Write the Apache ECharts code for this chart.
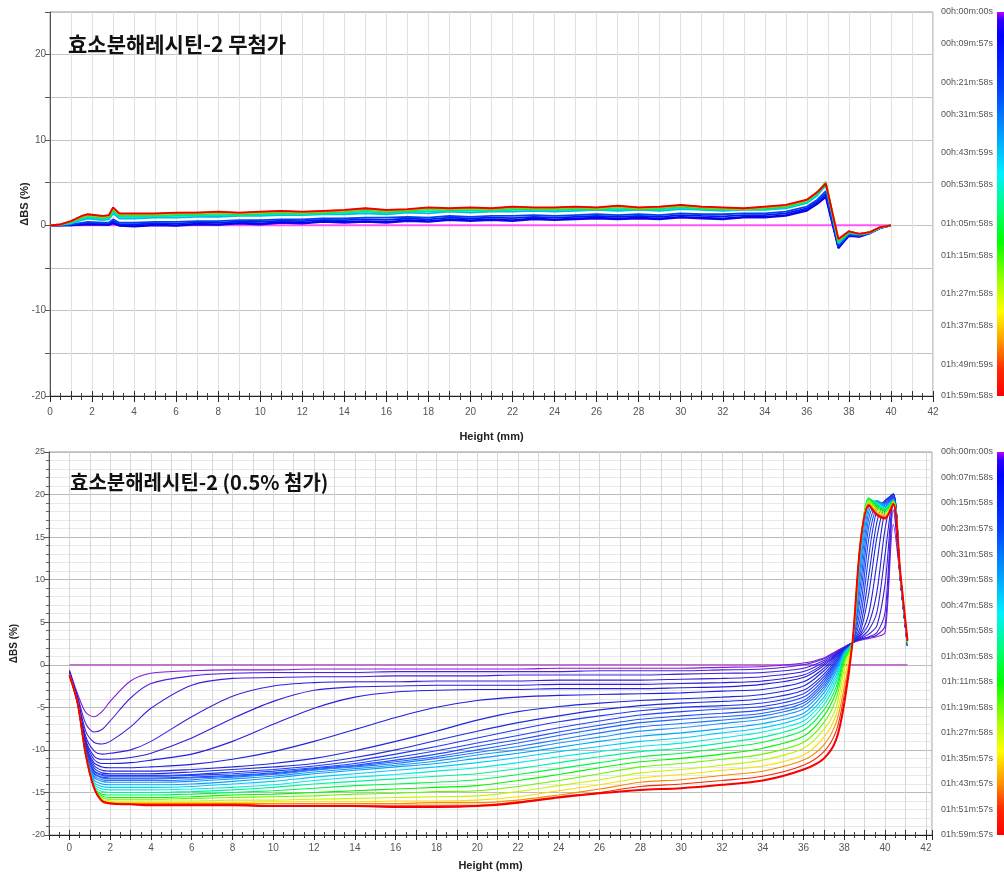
<!DOCTYPE html>
<html><head><meta charset="utf-8">
<script src="https://cdn.jsdelivr.net/npm/echarts@6/dist/echarts.min.js"></script>
<style>html,body{margin:0;padding:0;background:#fff}#c{width:1004px;height:874px}</style>
</head><body><div id="c"></div>
<script>
// ---------- TOP PANEL DATA (효소분해레시틴-2 무첨가) ----------
const topTitle = '효소분해레시틴-2 무첨가';
const topHeights = [0,0.5,1,1.5,1.8,2.5,2.8,3,3.3,4,5,6,7,8,9,10,11,12,13,14,15,16,17,18,19,20,21,22,23,24,25,26,27,28,29,30,31,32,33,34,35,36,36.5,36.9,37.5,38,38.5,39,39.5,40];
const topTimesMin = [3,8,15,25,45,55,65,85,105,120];
const topValues = [
 [0,0,0,0.05,0.1,0.05,0.05,0.2,-0.05,-0.15,0.0,-0.05,0.1,0.05,0.2,0.1,0.3,0.2,0.4,0.3,0.4,0.3,0.5,0.4,0.6,0.5,0.6,0.5,0.7,0.6,0.7,0.8,0.7,0.8,0.7,0.9,0.8,0.7,0.9,0.9,1.1,1.7,2.5,3.3,-2.7,-1.25,-1.35,-0.95,-0.3,0],
 [0,0,0,0.1,0.2,0.1,0.1,0.3,0.0,-0.1,0.1,0.0,0.2,0.1,0.3,0.2,0.4,0.3,0.5,0.4,0.5,0.4,0.6,0.5,0.7,0.6,0.7,0.6,0.8,0.7,0.8,0.9,0.8,0.9,0.8,1.0,0.9,0.8,1.0,1.0,1.2,1.8,2.6,3.4,-2.6,-1.2,-1.3,-0.9,-0.3,0],
 [0,0,0.05,0.2,0.3,0.2,0.2,0.5,0.15,0.1,0.25,0.2,0.35,0.3,0.45,0.4,0.55,0.5,0.65,0.6,0.7,0.65,0.8,0.7,0.9,0.8,0.9,0.85,1.0,0.9,1.0,1.1,1.0,1.1,1.0,1.2,1.1,1.05,1.2,1.2,1.4,2.0,2.8,3.7,-2.5,-1.15,-1.25,-0.9,-0.3,0],
 [0,0,0.1,0.3,0.4,0.3,0.3,0.7,0.3,0.3,0.4,0.4,0.5,0.5,0.6,0.6,0.7,0.7,0.8,0.8,0.9,0.9,1.0,0.9,1.1,1.0,1.1,1.1,1.2,1.1,1.2,1.3,1.2,1.3,1.2,1.4,1.3,1.3,1.4,1.4,1.6,2.2,3.0,4.0,-2.4,-1.1,-1.2,-0.9,-0.3,0],
 [0,0.05,0.2,0.6,0.8,0.6,0.7,1.4,0.8,0.8,0.9,0.9,1.0,1.0,1.1,1.1,1.2,1.2,1.3,1.3,1.4,1.3,1.5,1.4,1.6,1.5,1.6,1.6,1.7,1.6,1.7,1.8,1.7,1.8,1.7,1.9,1.8,1.7,1.8,1.8,2.0,2.6,3.5,4.7,-2.1,-0.9,-1.1,-0.9,-0.3,0],
 [0,0.08,0.3,0.75,0.95,0.75,0.85,1.6,1.0,1.0,1.05,1.1,1.15,1.2,1.2,1.25,1.35,1.3,1.4,1.45,1.6,1.45,1.6,1.65,1.7,1.7,1.7,1.8,1.8,1.75,1.85,1.85,1.9,1.85,1.85,2.05,1.9,1.8,1.85,1.9,2.1,2.7,3.65,4.9,-2.0,-0.85,-1.05,-0.85,-0.25,0],
 [0,0.1,0.4,0.9,1.1,0.9,1.0,1.8,1.2,1.2,1.2,1.3,1.3,1.4,1.3,1.4,1.5,1.4,1.5,1.6,1.8,1.6,1.7,1.9,1.8,1.9,1.8,2.0,1.9,1.9,2.0,1.9,2.1,1.9,2.0,2.2,2.0,1.9,1.9,2.0,2.2,2.8,3.8,5.1,-1.9,-0.8,-1.0,-0.8,-0.2,0],
 [0,0.1,0.45,1.0,1.2,1.0,1.1,2.0,1.3,1.3,1.3,1.4,1.4,1.5,1.4,1.5,1.6,1.5,1.6,1.7,1.9,1.7,1.8,2.0,1.9,2.0,1.9,2.1,2.0,2.0,2.1,2.0,2.2,2.0,2.1,2.3,2.1,2.0,1.9,2.1,2.3,2.9,3.9,5.0,-1.7,-0.7,-1.0,-0.8,-0.2,0],
 [0,0.1,0.5,1.05,1.25,1.05,1.15,2.05,1.35,1.35,1.35,1.45,1.5,1.55,1.45,1.55,1.65,1.55,1.65,1.75,1.95,1.75,1.85,2.05,1.95,2.05,1.95,2.15,2.05,2.05,2.15,2.05,2.25,2.05,2.15,2.35,2.15,2.05,1.95,2.15,2.35,2.95,3.9,4.95,-1.65,-0.7,-1.0,-0.8,-0.2,0],
 [0,0.1,0.5,1.1,1.3,1.1,1.2,2.1,1.4,1.4,1.4,1.5,1.5,1.6,1.5,1.6,1.7,1.6,1.7,1.8,2.0,1.8,1.9,2.1,2.0,2.1,2.0,2.2,2.1,2.1,2.2,2.1,2.3,2.1,2.2,2.4,2.2,2.1,2.0,2.2,2.4,3.0,3.9,4.9,-1.6,-0.7,-1.0,-0.8,-0.2,0]
];
const topZeroHeights = [0, 40];
const topZeroValues = [0, 0];
const topTimeLabels = ['00h:00m:00s','00h:09m:57s','00h:21m:58s','00h:31m:58s','00h:43m:59s','00h:53m:58s','01h:05m:58s','01h:15m:58s','01h:27m:58s','01h:37m:58s','01h:49m:59s','01h:59m:58s'];
const topTimeSecs = [0,597,1318,1918,2639,3238,3958,4558,5278,5878,6599,7198];
const topXMax = 42;

// ---------- BOTTOM PANEL DATA (효소분해레시틴-2 (0.5% 첨가)) ----------
const bottomTitle = '효소분해레시틴-2 (0.5% 첨가)';
const bottomHeights = [0,0.4,0.8,1.2,1.6,2,3,4,6,8,10,12,14,16,18,20,22,24,26,28,30,32,34,36,37,37.6,38,38.4,38.8,39.2,39.6,40,40.4,40.75,41.1];
const bottomTimesMin = [1,2,3,4,5,6,8,10,12,15,18,22,26,30,35,40,46,52,58,65,72,80,88,96,104,112,120];
const bottomValues = [
 [-0.6,-3.4,-5.6,-6.1,-5.5,-4.3,-1.9,-1.0,-0.7,-0.6,-0.6,-0.5,-0.5,-0.5,-0.5,-0.5,-0.5,-0.4,-0.4,-0.4,-0.4,-0.3,-0.2,0.2,0.8,1.6,2.1,2.6,2.9,3.1,3.3,3.8,16.5,10.0,2.2],
 [-0.7,-3.7,-6.9,-7.9,-7.6,-6.6,-3.9,-2.2,-1.3,-1.0,-0.9,-0.9,-0.9,-0.8,-0.8,-0.8,-0.8,-0.8,-0.7,-0.7,-0.7,-0.6,-0.5,0.0,0.7,1.5,2.1,2.6,3.0,3.2,3.5,4.6,18.2,10.0,2.2],
 [-0.8,-3.9,-7.8,-9.1,-9.3,-9.0,-7.3,-5.1,-2.4,-1.6,-1.5,-1.4,-1.4,-1.3,-1.3,-1.3,-1.2,-1.2,-1.2,-1.2,-1.1,-1.0,-0.9,-0.4,0.5,1.4,2.0,2.6,3.0,3.3,3.8,6.2,19.0,10.0,2.2],
 [-0.8,-4.0,-8.4,-10.1,-10.5,-10.4,-10.0,-9.0,-6.1,-3.7,-2.5,-2.1,-2.0,-2.0,-1.9,-1.9,-1.9,-1.8,-1.8,-1.8,-1.7,-1.6,-1.4,-0.8,0.3,1.3,2.0,2.6,3.1,3.6,4.6,9.5,19.4,10.0,2.2],
 [-0.9,-4.0,-8.8,-10.7,-11.1,-11.1,-10.9,-10.4,-8.6,-6.3,-4.3,-3.0,-2.6,-2.5,-2.4,-2.4,-2.4,-2.3,-2.3,-2.3,-2.2,-2.1,-1.9,-1.2,0.1,1.2,1.9,2.6,3.2,4.1,6.2,13.0,19.7,10.0,2.2],
 [-0.9,-4.1,-9.0,-11.1,-11.6,-11.6,-11.5,-11.2,-10.5,-9.0,-7.0,-5.1,-3.8,-3.2,-3.0,-2.9,-2.9,-2.8,-2.8,-2.8,-2.7,-2.6,-2.3,-1.5,-0.1,1.1,1.9,2.6,3.4,4.8,8.6,16.0,20.0,10.0,2.2],
 [-1.0,-4.1,-9.3,-11.5,-12.0,-12.1,-12.1,-12.0,-11.7,-11.1,-10.2,-9.0,-7.6,-6.2,-5.0,-4.2,-3.8,-3.6,-3.5,-3.4,-3.3,-3.1,-2.9,-2.0,-0.4,1.0,1.9,2.6,3.6,6.0,12.0,18.2,20.1,10.0,2.2],
 [-1.0,-4.2,-9.5,-11.8,-12.4,-12.5,-12.5,-12.5,-12.3,-12.0,-11.6,-11.0,-10.1,-9.0,-7.8,-6.5,-5.5,-4.9,-4.5,-4.2,-4.0,-3.8,-3.5,-2.5,-0.7,0.8,1.8,2.6,4.0,8.4,15.0,19.0,20.1,10.0,2.2],
 [-1.0,-4.2,-9.7,-12.1,-12.7,-12.8,-12.8,-12.8,-12.6,-12.3,-12.0,-11.6,-10.9,-10.0,-8.9,-7.8,-6.8,-6.0,-5.3,-4.8,-4.5,-4.3,-4.0,-3.0,-1.1,0.6,1.8,2.6,4.6,10.5,16.8,19.3,20.0,10.0,2.2],
 [-1.1,-4.3,-9.9,-12.4,-12.9,-13.0,-13.0,-13.0,-12.9,-12.6,-12.3,-11.9,-11.3,-10.5,-9.6,-8.6,-7.6,-6.7,-6.0,-5.4,-5.0,-4.8,-4.5,-3.4,-1.4,0.4,1.7,2.6,5.6,12.8,18.2,19.3,19.8,10.0,2.3],
 [-1.1,-4.3,-10.0,-12.5,-13.0,-13.1,-13.1,-13.1,-13.0,-12.8,-12.5,-12.1,-11.6,-10.9,-10.1,-9.2,-8.3,-7.4,-6.6,-5.9,-5.5,-5.2,-4.9,-3.8,-1.7,0.3,1.7,2.6,6.8,14.8,18.7,19.2,19.7,10.0,2.3],
 [-1.1,-4.3,-10.1,-12.7,-13.2,-13.3,-13.3,-13.3,-13.2,-13.0,-12.7,-12.2,-11.8,-11.2,-10.5,-9.6,-8.8,-7.9,-7.1,-6.4,-6.0,-5.7,-5.3,-4.2,-2.0,0.1,1.6,2.6,8.2,16.2,18.9,19.1,19.6,10.0,2.3],
 [-1.1,-4.4,-10.2,-12.8,-13.3,-13.4,-13.4,-13.4,-13.3,-13.1,-12.8,-12.3,-11.9,-11.4,-10.8,-10.0,-9.2,-8.3,-7.5,-6.8,-6.4,-6.1,-5.7,-4.5,-2.3,-0.1,1.6,2.6,9.5,17.2,19.1,19.0,19.5,10.0,2.3],
 [-1.2,-4.4,-10.3,-13.0,-13.5,-13.6,-13.6,-13.6,-13.5,-13.2,-12.9,-12.4,-12.0,-11.6,-11.0,-10.3,-9.6,-8.8,-8.0,-7.3,-6.9,-6.5,-6.0,-4.8,-2.6,-0.3,1.5,2.6,10.8,18.0,19.2,18.9,19.4,10.1,2.4],
 [-1.2,-4.4,-10.4,-13.2,-13.7,-13.8,-13.8,-13.8,-13.7,-13.4,-13.1,-12.6,-12.2,-11.8,-11.3,-10.6,-10.0,-9.2,-8.5,-7.8,-7.4,-6.9,-6.4,-5.2,-2.9,-0.5,1.5,2.6,11.8,18.6,19.3,18.8,19.4,10.1,2.4],
 [-1.2,-4.5,-10.5,-13.5,-14.0,-14.1,-14.1,-14.1,-14.0,-13.7,-13.3,-12.8,-12.4,-12.0,-11.6,-11.0,-10.4,-9.7,-9.0,-8.4,-8.0,-7.5,-6.9,-5.7,-3.3,-0.8,1.4,2.6,12.6,19.0,19.2,18.6,19.3,10.2,2.4],
 [-1.2,-4.5,-10.5,-13.8,-14.3,-14.4,-14.4,-14.4,-14.3,-14.0,-13.7,-13.2,-12.8,-12.4,-12.0,-11.5,-10.9,-10.2,-9.6,-9.0,-8.6,-8.0,-7.4,-6.1,-3.8,-1.2,1.3,2.6,13.2,19.3,19.1,18.5,19.3,10.2,2.5],
 [-1.2,-4.5,-10.6,-14.0,-14.6,-14.7,-14.7,-14.7,-14.6,-14.4,-14.1,-13.6,-13.2,-12.9,-12.5,-12.1,-11.5,-10.8,-10.2,-9.6,-9.2,-8.6,-7.9,-6.6,-4.2,-1.6,1.2,2.6,13.7,19.5,19.0,18.4,19.3,10.3,2.5],
 [-1.2,-4.5,-10.6,-14.2,-14.9,-15.0,-15.0,-15.0,-14.9,-14.7,-14.4,-14.0,-13.7,-13.4,-13.1,-12.8,-12.2,-11.5,-10.8,-10.2,-9.8,-9.2,-8.5,-7.1,-4.7,-2.0,1.1,2.6,14.0,19.6,18.9,18.3,19.3,10.3,2.5],
 [-1.2,-4.5,-10.7,-14.3,-15.2,-15.3,-15.3,-15.3,-15.2,-15.0,-14.8,-14.5,-14.2,-14.0,-13.8,-13.5,-12.9,-12.2,-11.5,-10.8,-10.4,-9.8,-9.1,-7.7,-5.3,-2.6,0.9,2.6,14.2,19.6,18.8,18.2,19.3,10.4,2.6],
 [-1.2,-4.5,-10.7,-14.4,-15.4,-15.6,-15.6,-15.6,-15.5,-15.3,-15.2,-15.0,-14.8,-14.6,-14.4,-14.2,-13.6,-12.9,-12.1,-11.4,-11.0,-10.5,-9.8,-8.4,-6.0,-3.2,0.6,2.6,14.4,19.5,18.6,18.1,19.3,10.4,2.6],
 [-1.2,-4.5,-10.7,-14.4,-15.6,-15.8,-15.8,-15.8,-15.7,-15.6,-15.5,-15.4,-15.2,-15.1,-14.9,-14.8,-14.3,-13.6,-12.8,-12.0,-11.6,-11.1,-10.5,-9.1,-6.8,-4.0,0.2,2.6,14.5,19.4,18.4,17.9,19.2,10.5,2.7],
 [-1.2,-4.5,-10.6,-14.4,-15.8,-16.0,-16.0,-16.0,-16.0,-15.9,-15.9,-15.8,-15.7,-15.6,-15.5,-15.4,-14.9,-14.2,-13.5,-12.7,-12.3,-11.8,-11.2,-9.8,-7.6,-5.0,-0.5,2.6,14.6,19.2,18.2,17.7,19.1,10.5,2.7],
 [-1.2,-4.5,-10.6,-14.4,-15.9,-16.1,-16.2,-16.2,-16.2,-16.2,-16.1,-16.1,-16.1,-16.0,-16.0,-15.9,-15.5,-14.8,-14.1,-13.3,-12.9,-12.4,-11.9,-10.6,-8.5,-5.9,-1.5,2.6,14.6,19.0,18.0,17.5,19.0,10.6,2.7],
 [-1.2,-4.5,-10.5,-14.4,-15.9,-16.2,-16.3,-16.3,-16.3,-16.3,-16.3,-16.3,-16.3,-16.3,-16.2,-16.2,-15.9,-15.3,-14.6,-13.8,-13.5,-13.0,-12.5,-11.2,-9.4,-6.8,-2.6,2.6,14.6,18.9,17.8,17.4,19.0,10.6,2.8],
 [-1.2,-4.5,-10.5,-14.4,-16.0,-16.3,-16.4,-16.4,-16.4,-16.4,-16.5,-16.5,-16.5,-16.5,-16.5,-16.5,-16.1,-15.5,-15.0,-14.3,-14.0,-13.6,-13.1,-11.8,-10.2,-7.8,-3.5,2.6,14.5,18.8,17.7,17.3,18.9,10.6,2.8],
 [-1.2,-4.5,-10.5,-14.4,-16.0,-16.3,-16.4,-16.5,-16.5,-16.5,-16.6,-16.6,-16.6,-16.7,-16.7,-16.6,-16.2,-15.6,-15.1,-14.7,-14.5,-14.1,-13.6,-12.3,-11.0,-8.8,-4.5,2.6,14.5,18.7,17.6,17.2,18.9,10.7,2.8]
];
const bottomZeroHeights = [0, 41.1];
const bottomZeroValues = [0, 0];
const bottomXLabels = [0,2,4,6,8,10,12,14,16,18,20,22,24,26,28,30,32,34,36,38,40,42];
const bottomTimeLabels = ['00h:00m:00s','00h:07m:58s','00h:15m:58s','00h:23m:57s','00h:31m:58s','00h:39m:58s','00h:47m:58s','00h:55m:58s','01h:03m:58s','01h:11m:58s','01h:19m:58s','01h:27m:58s','01h:35m:57s','01h:43m:57s','01h:51m:57s','01h:59m:57s'];
const bottomTimeSecs = [0,478,958,1437,1918,2398,2878,3358,3838,4318,4798,5278,5757,6237,6717,7197];
const totalMinutes = 120;

// ---------- STYLE ----------
const colorStops = [[0,'#c000ff'],[0.02,'#3000ff'],[0.06,'#0000ff'],[0.2,'#0040ff'],[0.32,'#00a0ff'],[0.42,'#00f0ff'],[0.52,'#00ff70'],[0.6,'#00ff00'],[0.7,'#a0ff00'],[0.78,'#ffff00'],[0.86,'#ff9900'],[0.93,'#ff2a00'],[1,'#ff0000']];
function hex2rgb(h){return [parseInt(h.slice(1,3),16),parseInt(h.slice(3,5),16),parseInt(h.slice(5,7),16)];}
function colorAt(f, mixWhite, dark){
  f=Math.max(0,Math.min(1,f));
  for(let i=1;i<colorStops.length;i++){
    if(f<=colorStops[i][0]){
      const a=colorStops[i-1],b=colorStops[i];
      const t=(f-a[0])/(b[0]-a[0]);
      const ca=hex2rgb(a[1]),cb=hex2rgb(b[1]);
      const c=ca.map((v,k)=>{let x=(v+(cb[k]-v)*t)*(dark||1); x = x + (255-x)*(mixWhite||0); return Math.round(x);});
      return 'rgb('+c.join(',')+')';
    }
  }
  return colorStops[colorStops.length-1][1];
}
const font = 'Liberation Sans, Arial, sans-serif';

const series = [];
function addLine(xi, yi, hs, vs, color, width, smooth, z){
  series.push({type:'line', xAxisIndex:xi, yAxisIndex:yi, data: hs.map((h,i)=>[h,vs[i]]),
    symbol:'none', showSymbol:false, smooth: smooth,
    lineStyle:{color:color, width:width}, silent:true, animation:false, z:z||2});
}
// top
addLine(0,0,topZeroHeights,topZeroValues,'#ff55ff',2,false,2);
topValues.forEach((vs,i)=>{
  addLine(0,0,topHeights,vs,colorAt(topTimesMin[i]/totalMinutes, 0, 0.92),1.8,false,3);
});
// bottom
addLine(2,1,bottomZeroHeights,bottomZeroValues,'#b040c0',1.2,false,2);
bottomValues.forEach((vs,i)=>{
  const f = bottomTimesMin[i]/totalMinutes;
  addLine(2,1,bottomHeights,vs,colorAt(f, f<0.3?0.12:0, f<0.12?0.85:0.97), i===bottomValues.length-1?2:1.1, 0.3, 3);
});
// colorbars (via their own axes)
function barGradient(){
  return new echarts.graphic.LinearGradient(0,0,0,1,colorStops.map(s=>({offset:s[0],color:s[1]})));
}
function colorbarSeries(xi, yi, maxV){
  return {type:'custom', xAxisIndex:xi, yAxisIndex:yi, data:[[0,maxV]], silent:true, animation:false,
    renderItem:(params, api)=>{
      const p0 = api.coord([0,0]); const p1 = api.coord([1,api.value(1)]);
      return {type:'rect', shape:{x:p0[0], y:Math.min(p0[1],p1[1]), width:p1[0]-p0[0], height:Math.abs(p1[1]-p0[1])}, style:{fill:barGradient()}};
    }};
}
series.push(colorbarSeries(4,2,topTimeSecs[topTimeSecs.length-1]));
series.push(colorbarSeries(5,3,bottomTimeSecs[bottomTimeSecs.length-1]));

const topLabelMap = {}; topTimeSecs.forEach((s,i)=>topLabelMap[s]=topTimeLabels[i]);
const botLabelMap = {}; bottomTimeSecs.forEach((s,i)=>botLabelMap[s]=bottomTimeLabels[i]);

const axisLabelStyle = {fontSize:10, color:'#555', fontFamily:font};
const nameStyle = {fontSize:11, fontWeight:'bold', color:'#222', fontFamily:font};

const option = {
  animation:false,
  backgroundColor:'#fff',
  title:[
    {text:topTitle, left:68, top:34, padding:0, textStyle:{fontSize:21, fontWeight:'bold', color:'#111', fontFamily:'Noto Sans CJK KR'}},
    {text:bottomTitle, left:70, top:472, padding:0, textStyle:{fontSize:20, fontWeight:'bold', color:'#111', fontFamily:'Noto Sans CJK KR'}}
  ],
  grid:[
    {left:50, top:12, width:883, height:384, show:true, borderColor:'#999', borderWidth:1},
    {left:49, top:452, width:883, height:383, show:true, borderColor:'#999', borderWidth:1},
    {left:997, top:12, width:7, height:384},
    {left:997, top:452, width:7, height:383}
  ],
  xAxis:[
    {gridIndex:0, type:'value', position:'bottom', min:0, max:topXMax, interval:2,
      axisLine:{onZero:false, lineStyle:{color:'#222'}},
      axisTick:{length:6, lineStyle:{color:'#222'}},
      minorTick:{show:true, splitNumber:4, length:4, lineStyle:{color:'#333'}},
      axisLabel:{...axisLabelStyle, margin:11},
      splitLine:{show:true, lineStyle:{color:'#c9c9c9'}},
      name:'Height (mm)', nameLocation:'middle', nameGap:35, nameMoveOverlap:false, nameTextStyle:nameStyle},
    {gridIndex:0, type:'value', position:'bottom', offset:0, min:0, max:topXMax, interval:1,
      axisLine:{show:false, onZero:false}, axisLabel:{show:false},
      axisTick:{show:true, inside:true, length:5, lineStyle:{color:'#333'}},
      minorTick:{show:true, splitNumber:2, length:3, lineStyle:{color:'#444'}},
      splitLine:{show:true, lineStyle:{color:'#e0e0e0'}}},
    {gridIndex:1, type:'value', position:'bottom', min:-1, max:42.3, interval:1,
      axisLine:{onZero:false, lineStyle:{color:'#222'}},
      axisTick:{length:5, lineStyle:{color:'#222'}},
      minorTick:{show:true, splitNumber:2, length:3, lineStyle:{color:'#333'}},
      axisLabel:{...axisLabelStyle, margin:8, customValues:bottomXLabels},
      splitLine:{show:true, lineStyle:{color:'#d6d6d6'}},
      name:'Height (mm)', nameLocation:'middle', nameGap:25, nameMoveOverlap:false, nameTextStyle:nameStyle},
    {gridIndex:1, type:'value', position:'bottom', offset:0, min:-1, max:42.3, interval:1,
      axisLine:{show:false, onZero:false}, axisLabel:{show:false},
      axisTick:{show:true, inside:true, length:5, lineStyle:{color:'#333'}},
      minorTick:{show:true, splitNumber:2, length:3, lineStyle:{color:'#444'}},
      splitLine:{show:false}},
    {gridIndex:2, type:'value', min:0, max:1, show:false},
    {gridIndex:3, type:'value', min:0, max:1, show:false}
  ],
  yAxis:[
    {gridIndex:0, type:'value', min:-20, max:25, interval:5,
      axisLine:{show:true, onZero:false, lineStyle:{color:'#555'}},
      axisTick:{show:true, length:5, lineStyle:{color:'#555'}},
      axisLabel:{...axisLabelStyle, margin:4, formatter:v=> (v%10===0 ? String(v) : '')},
      splitLine:{show:true, lineStyle:{color:'#c4c4c4'}},
      name:'ΔBS (%)', nameLocation:'middle', nameGap:20, nameMoveOverlap:false, nameTextStyle:nameStyle},
    {gridIndex:1, type:'value', min:-20, max:25, interval:5,
      axisLine:{show:true, onZero:false, lineStyle:{color:'#555'}},
      axisTick:{show:true, length:5, lineStyle:{color:'#555'}},
      minorTick:{show:true, splitNumber:5, length:3, lineStyle:{color:'#666'}},
      axisLabel:{...axisLabelStyle, fontSize:9, margin:4},
      splitLine:{show:true, lineStyle:{color:'#bcbcbc'}},
      minorSplitLine:{show:true, lineStyle:{color:'#e8e8e8'}},
      name:'ΔBS (%)', nameLocation:'middle', nameGap:30, nameMoveOverlap:false, nameTextStyle:{...nameStyle, fontSize:10}},
    {gridIndex:2, type:'value', min:0, max:topTimeSecs[topTimeSecs.length-1], inverse:true,
      axisLine:{show:false}, axisTick:{show:false}, splitLine:{show:false},
      axisLabel:{fontSize:9, color:'#555', fontFamily:font, margin:4, customValues:topTimeSecs, formatter:v=>topLabelMap[v]||''}},
    {gridIndex:3, type:'value', min:0, max:bottomTimeSecs[bottomTimeSecs.length-1], inverse:true,
      axisLine:{show:false}, axisTick:{show:false}, splitLine:{show:false},
      axisLabel:{fontSize:9, color:'#555', fontFamily:font, margin:4, customValues:bottomTimeSecs, formatter:v=>botLabelMap[v]||''}}
  ],
  series: series
};
const chart = echarts.init(document.getElementById('c'), null, {renderer:'canvas'});
chart.setOption(option);
</script>
</body></html>
